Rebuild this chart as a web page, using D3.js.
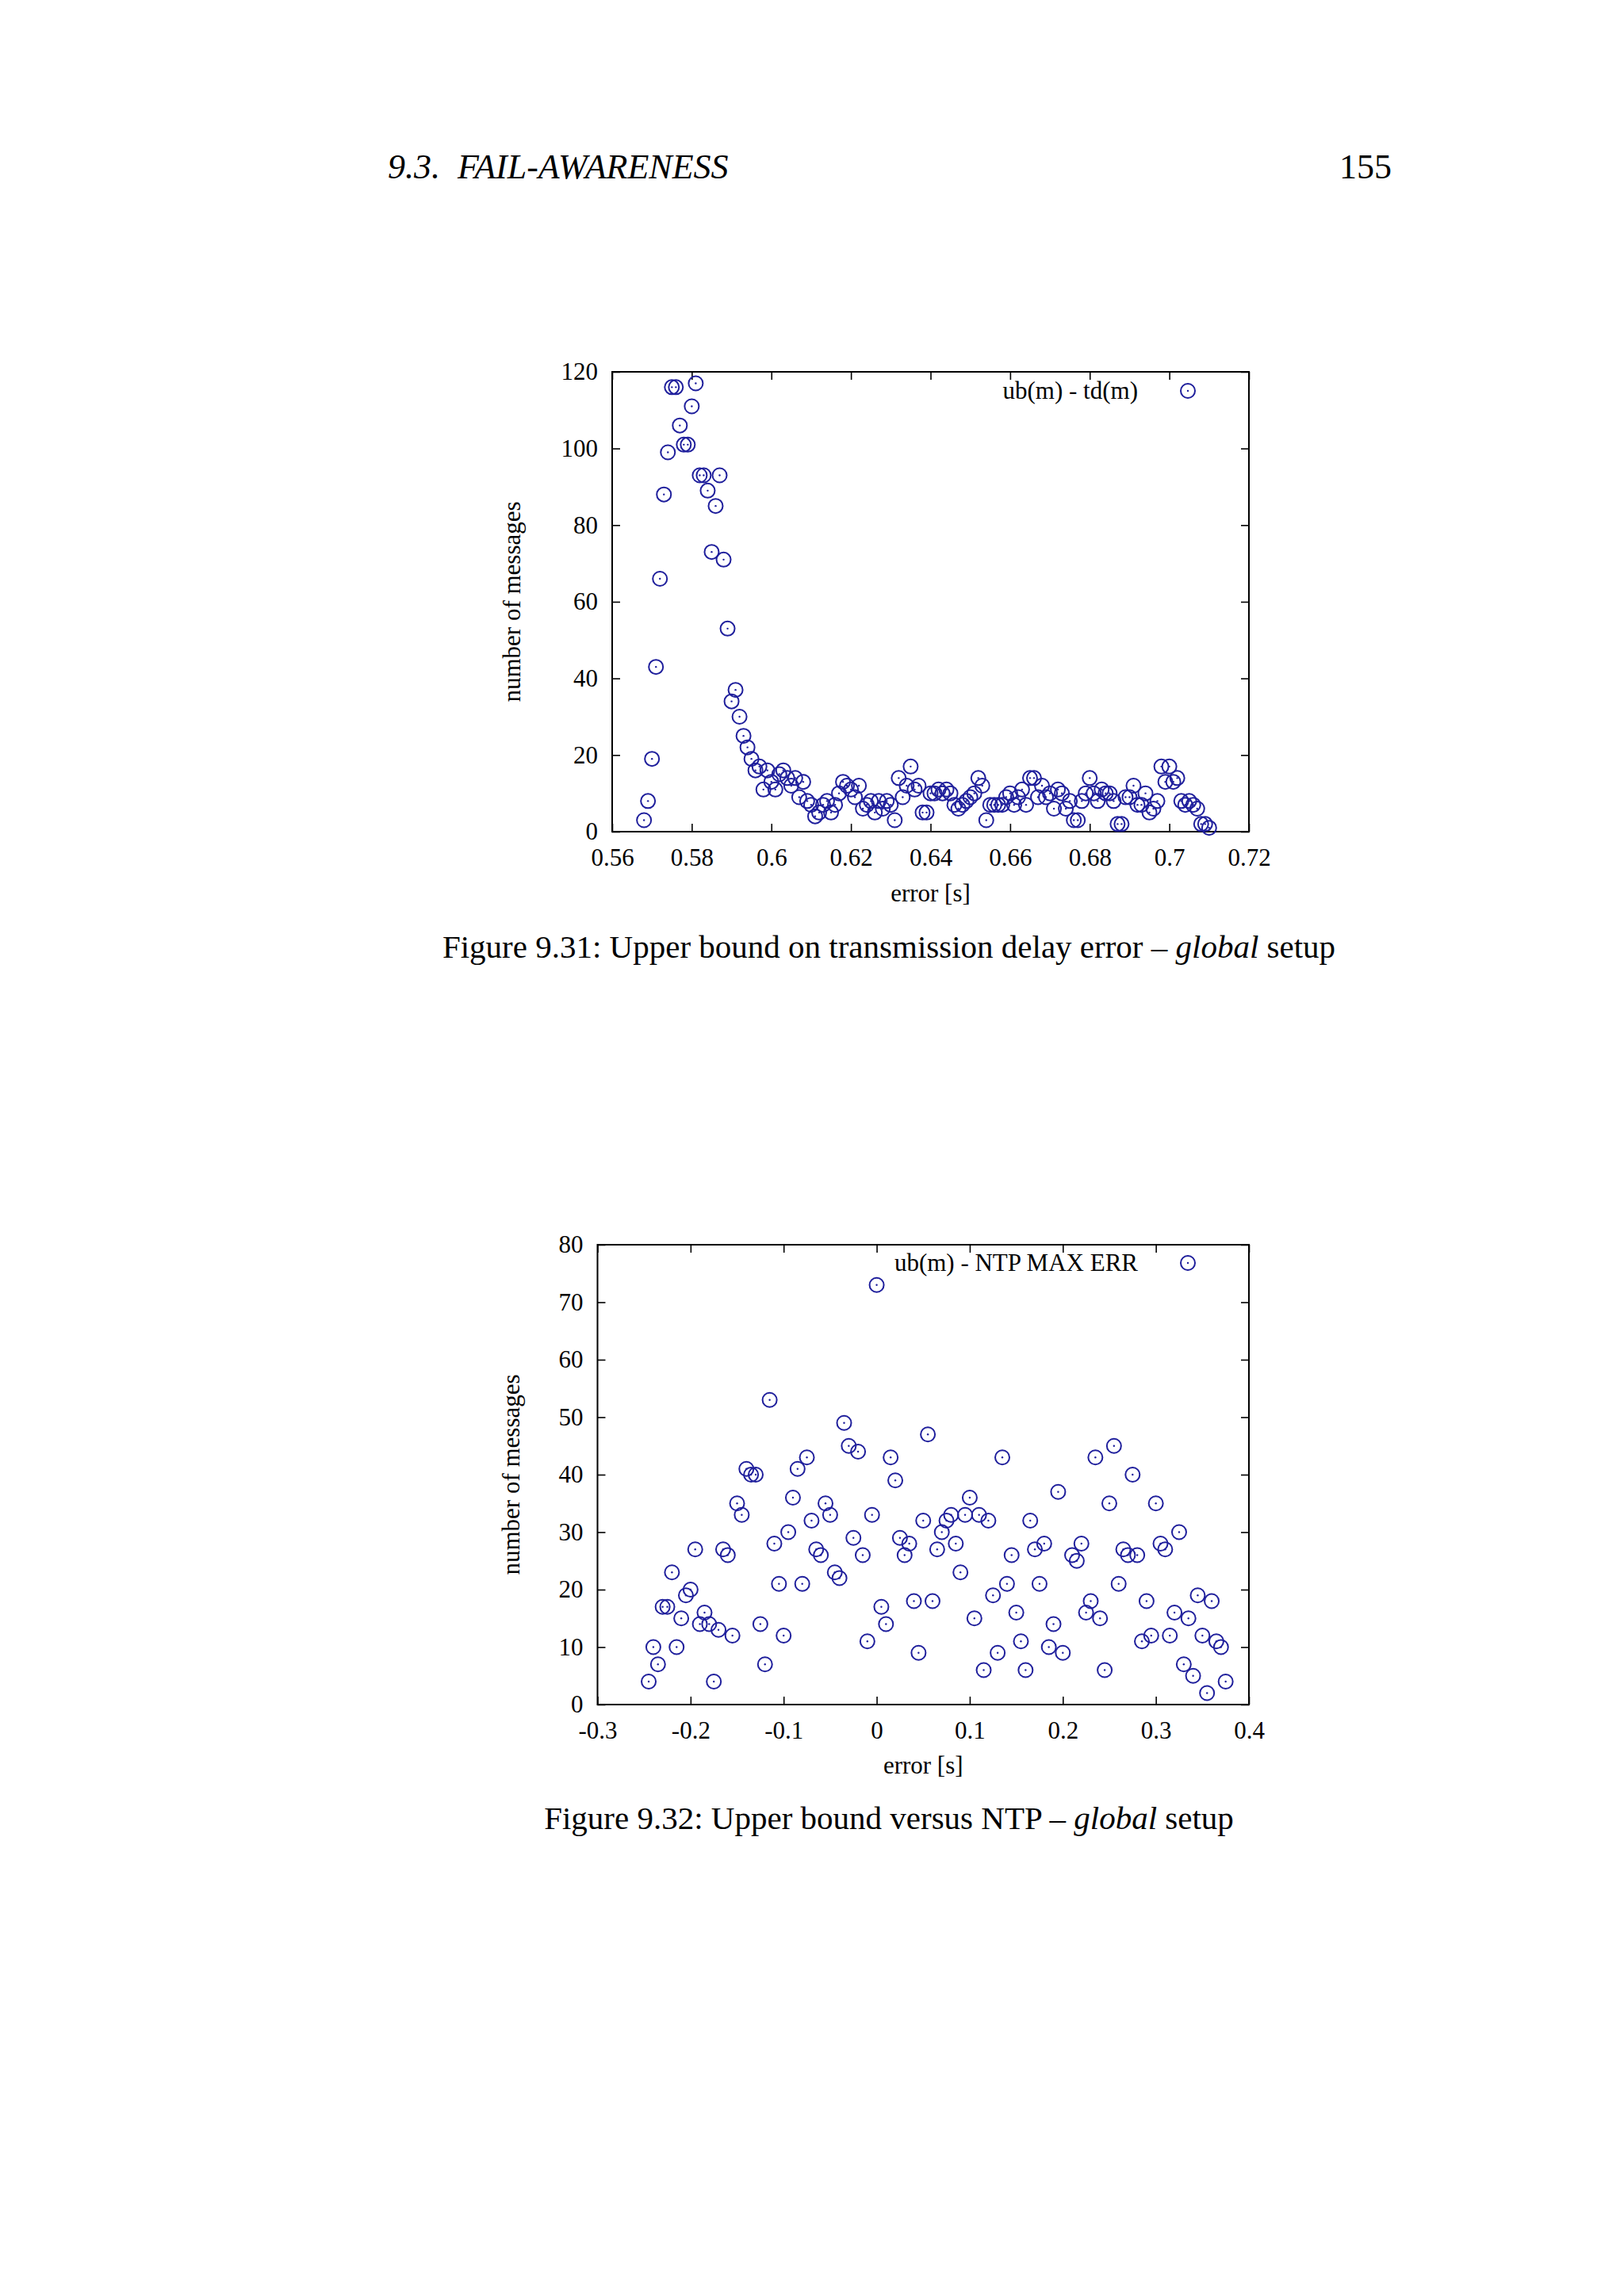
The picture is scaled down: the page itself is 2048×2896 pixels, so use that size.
<!DOCTYPE html>
<html><head><meta charset="utf-8">
<script src="https://cdn.jsdelivr.net/npm/d3@7/dist/d3.min.js"></script>
<style>
body{margin:0;background:#fff}
svg text{font-family:"Liberation Serif","Times New Roman",serif;fill:#000}
</style>
</head><body>
<svg id="page" width="2048" height="2896"></svg>
<script>
// ---------- Figure 9.31 data ----------
const fig1X = [
0.568,0.569,0.570,0.571,0.572,0.573,0.574,0.575,0.576,0.577,
0.578,0.579,0.580,0.581,0.582,0.583,0.584,0.585,0.586,0.587,
0.588,0.589,0.590,0.591,0.592,0.593,0.594,0.595,0.596,0.597,
0.598,0.599,0.600,0.601,0.602,0.603,0.604,0.605,0.606,0.607,
0.608,0.609,0.610,0.611,0.612,0.613,0.614,0.615,0.616,0.617,
0.618,0.619,0.620,0.621,0.622,0.623,0.624,0.625,0.626,0.627,
0.628,0.629,0.630,0.631,0.632,0.633,0.634,0.635,0.636,0.637,
0.638,0.639,0.640,0.641,0.642,0.643,0.644,0.645,0.646,0.647,
0.648,0.649,0.650,0.651,0.652,0.653,0.654,0.655,0.656,0.657,
0.658,0.659,0.660,0.661,0.662,0.663,0.664,0.665,0.666,0.667,
0.668,0.669,0.670,0.671,0.672,0.673,0.674,0.675,0.676,0.677,
0.678,0.679,0.680,0.681,0.682,0.683,0.684,0.685,0.686,0.687,
0.688,0.689,0.690,0.691,0.692,0.693,0.694,0.695,0.696,0.697,
0.698,0.699,0.700,0.701,0.702,0.703,0.704,0.705,0.706,0.707,
0.708,0.709,0.710];
const fig1Y = [
3,8,19,43,66,88,99,116,116,106,
101,101,111,117,93,93,89,73,85,93,
71,53,34,37,30,25,22,19,16,17,
11,16,13,11,15,16,14,12,14,9,
13,8,7,4,5,7,8,5,7,10,
13,12,11,9,12,6,7,8,5,8,
6,8,7,3,14,9,12,17,11,12,
5,5,10,10,11,10,11,10,7,6,
7,8,9,10,14,12,3,7,7,7,
7,9,10,7,9,11,7,14,14,9,
12,9,10,6,11,10,6,8,3,3,
8,10,14,10,8,11,10,10,8,2,
2,9,9,12,7,7,10,5,6,8,
17,13,17,13,14,8,7,8,7,6,
2,2,1];
const fig1XTicks = [0.56,0.58,0.60,0.62,0.64,0.66,0.68,0.70,0.72];
const fig1XTickLabels = ["0.56","0.58","0.6","0.62","0.64","0.66","0.68","0.7","0.72"];
const fig1YTicks = [0,20,40,60,80,100,120];
const fig1YTickLabels = ["0","20","40","60","80","100","120"];

// ---------- Figure 9.32 data ----------
const fig2X = [
-0.245,-0.240,-0.235,-0.230,-0.225,-0.220,-0.215,-0.210,-0.205,-0.200,
-0.195,-0.190,-0.185,-0.180,-0.175,-0.170,-0.165,-0.160,-0.155,-0.150,
-0.145,-0.140,-0.135,-0.130,-0.125,-0.120,-0.115,-0.110,-0.105,-0.100,
-0.095,-0.090,-0.085,-0.080,-0.075,-0.070,-0.065,-0.060,-0.055,-0.050,
-0.045,-0.040,-0.035,-0.030,-0.025,-0.020,-0.015,-0.010,-0.005,0.000,
0.005,0.010,0.015,0.020,0.025,0.030,0.035,0.040,0.045,0.050,
0.055,0.060,0.065,0.070,0.075,0.080,0.085,0.090,0.095,0.100,
0.105,0.110,0.115,0.120,0.125,0.130,0.135,0.140,0.145,0.150,
0.155,0.160,0.165,0.170,0.175,0.180,0.185,0.190,0.195,0.200,
0.210,0.215,0.220,0.225,0.230,0.235,0.240,0.245,0.250,0.255,
0.260,0.265,0.270,0.275,0.280,0.285,0.290,0.295,0.300,0.305,
0.310,0.315,0.320,0.325,0.330,0.335,0.340,0.345,0.350,0.355,
0.360,0.365,0.370,0.375];
const fig2Y = [
4,10,7,17,17,23,10,15,19,20,
27,14,16,14,4,13,27,26,12,35,
33,41,40,40,14,7,53,28,21,12,
30,36,41,21,43,32,27,26,35,33,
23,22,49,45,29,44,26,11,33,73,
17,14,43,39,29,26,28,18,9,32,
47,18,27,30,32,33,28,23,33,36,
15,33,6,32,19,9,43,21,26,16,
11,6,32,27,21,28,10,14,37,9,
26,25,28,16,18,43,15,6,35,45,
21,27,26,40,26,11,18,12,35,28,
27,12,16,30,7,15,5,19,12,2,
18,11,10,4];
const fig2XTicks = [-0.3,-0.2,-0.1,0,0.1,0.2,0.3,0.4];
const fig2XTickLabels = ["-0.3","-0.2","-0.1","0","0.1","0.2","0.3","0.4"];
const fig2YTicks = [0,10,20,30,40,50,60,70,80];
const fig2YTickLabels = ["0","10","20","30","40","50","60","70","80"];

// ---------- drawing ----------
const svg = d3.select("#page");
svg.append("rect").attr("width",2048).attr("height",2896).attr("fill","#fff");

const MARK = "#1f1f9c";
const FONT = 31;

svg.append("text").attr("x",489).attr("y",225).attr("font-size",44)
  .attr("font-style","italic").attr("xml:space","preserve").text("9.3.  FAIL-AWARENESS");
svg.append("text").attr("x",1755).attr("y",225).attr("font-size",44)
  .attr("text-anchor","end").text("155");

function drawChart(c){
  const x = d3.scaleLinear().domain(c.xDomain).range([c.left, c.right]);
  const y = d3.scaleLinear().domain(c.yDomain).range([c.bottom, c.top]);
  const g = svg.append("g");
  const T = 10;

  const ax = (gen, tx, ty) => {
    const a = g.append("g").attr("transform",`translate(${tx},${ty})`).call(gen);
    a.select(".domain").remove();
    a.selectAll("line").attr("stroke","#000").attr("stroke-width",1.6);
    a.selectAll("text").attr("font-size",FONT).attr("fill","#000")
      .attr("font-family",'"Liberation Serif","Times New Roman",serif');
    return a;
  };
  ax(d3.axisBottom(x).tickValues(c.xTicks).tickFormat((d,i)=>c.xTickLabels[i])
      .tickSizeInner(-T).tickSizeOuter(0).tickPadding(c.xPad), 0, c.bottom);
  ax(d3.axisTop(x).tickValues(c.xTicks).tickFormat("")
      .tickSizeInner(-T).tickSizeOuter(0), 0, c.top);
  ax(d3.axisLeft(y).tickValues(c.yTicks).tickFormat((d,i)=>c.yTickLabels[i])
      .tickSizeInner(-T).tickSizeOuter(0).tickPadding(18), c.left, 0);
  ax(d3.axisRight(y).tickValues(c.yTicks).tickFormat("")
      .tickSizeInner(-T).tickSizeOuter(0), c.right, 0);

  g.append("rect").attr("x",c.left).attr("y",c.top)
    .attr("width",c.right-c.left).attr("height",c.bottom-c.top)
    .attr("fill","none").attr("stroke","#000").attr("stroke-width",2);

  const pts = c.xs.map((v,i)=>({x:v,y:c.ys[i]}));
  const m = g.append("g");
  m.selectAll("circle.o").data(pts).join("circle").attr("class","o")
    .attr("cx",d=>x(d.x)).attr("cy",d=>y(d.y)).attr("r",9)
    .attr("fill","none").attr("stroke",MARK).attr("stroke-width",2);
  m.selectAll("circle.d").data(pts).join("circle").attr("class","d")
    .attr("cx",d=>x(d.x)).attr("cy",d=>y(d.y)).attr("r",1.2)
    .attr("fill",MARK);

  // legend
  g.append("text").attr("x",1435).attr("y",c.legendY+10).attr("font-size",FONT)
    .attr("text-anchor","end").text(c.legend);
  g.append("circle").attr("cx",1498).attr("cy",c.legendY).attr("r",9)
    .attr("fill","none").attr("stroke",MARK).attr("stroke-width",2);
  g.append("circle").attr("cx",1498).attr("cy",c.legendY).attr("r",1.2).attr("fill",MARK);

  // axis titles
  g.append("text").attr("x",(c.left+c.right)/2).attr("y",c.xTitleY)
    .attr("font-size",FONT).attr("text-anchor","middle").text("error [s]");
  const cy = (c.top+c.bottom)/2;
  g.append("text").attr("transform",`translate(${c.yTitleX},${cy}) rotate(-90)`)
    .attr("font-size",FONT).attr("text-anchor","middle").text("number of messages");

  // caption
  const cap = g.append("text").attr("x",1121).attr("y",c.captionY)
    .attr("font-size",41).attr("text-anchor","middle");
  cap.append("tspan").text(c.caption[0]);
  cap.append("tspan").attr("font-style","italic").text(c.caption[1]);
  cap.append("tspan").text(c.caption[2]);
}

drawChart({
  left:772, right:1575, top:469, bottom:1049,
  xDomain:[0.56,0.72], yDomain:[0,120],
  xTicks:fig1XTicks, xTickLabels:fig1XTickLabels,
  yTicks:fig1YTicks, yTickLabels:fig1YTickLabels,
  xs:fig1X, ys:fig1Y, xPad:21,
  legend:"ub(m) - td(m)", legendY:493,
  xTitleY:1137, yTitleX:656,
  caption:["Figure 9.31: Upper bound on transmission delay error \u2013 ","global"," setup"],
  captionY:1208
});
drawChart({
  left:753.5, right:1575, top:1570, bottom:2150,
  xDomain:[-0.3,0.4], yDomain:[0,80],
  xTicks:fig2XTicks, xTickLabels:fig2XTickLabels,
  yTicks:fig2YTicks, yTickLabels:fig2YTickLabels,
  xs:fig2X, ys:fig2Y, xPad:21,
  legend:"ub(m) - NTP MAX ERR", legendY:1593,
  xTitleY:2237, yTitleX:655,
  caption:["Figure 9.32: Upper bound versus NTP \u2013 ","global"," setup"],
  captionY:2307
});
</script>
</body></html>
